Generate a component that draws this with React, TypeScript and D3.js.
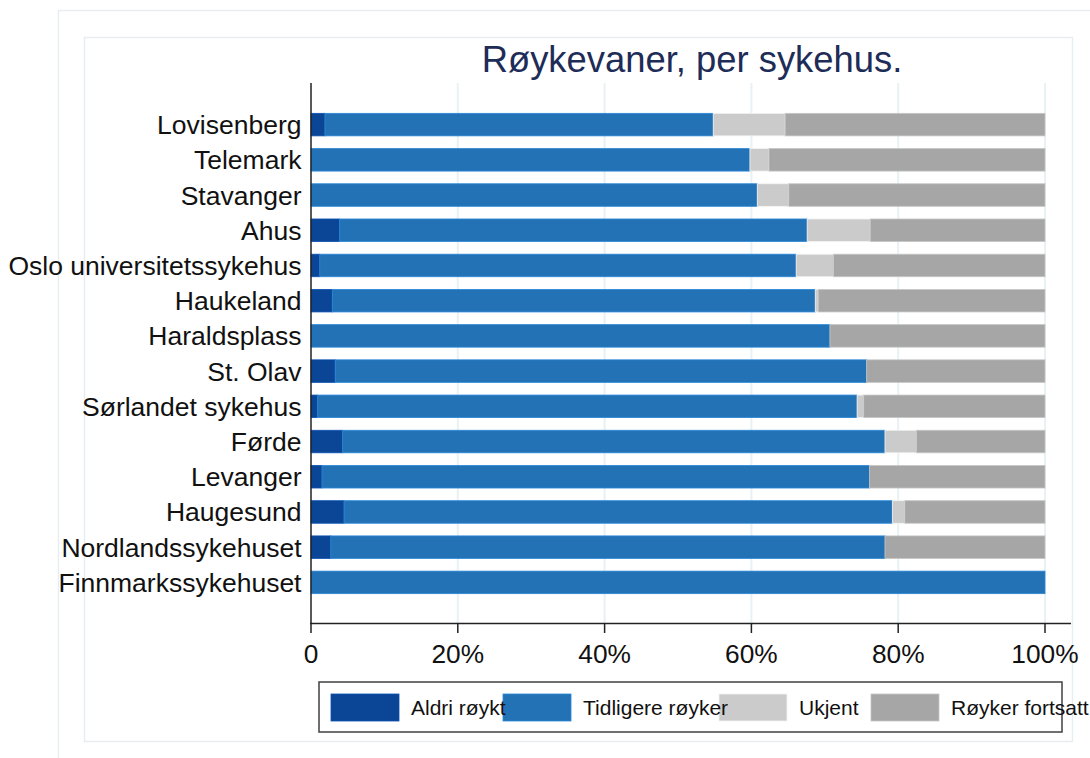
import React, { useEffect, useRef } from 'react'
import * as d3 from 'd3'

const hospitals = [
  'Lovisenberg', 'Telemark', 'Stavanger', 'Ahus', 'Oslo universitetssykehus', 'Haukeland',
  'Haraldsplass', 'St. Olav', 'Sørlandet sykehus', 'Førde', 'Levanger', 'Haugesund',
  'Nordlandssykehuset', 'Finnmarkssykehuset'
];
const seriesNames = ['Aldri røykt', 'Tidligere røyker', 'Ukjent', 'Røyker fortsatt'];
// percent per hospital, same order as above
const aldri = [1.9, 0, 0, 3.9, 1.2, 2.9, 0, 3.3, 0.9, 4.3, 1.5, 4.5, 2.7, 0];
const tidligere = [52.9, 59.8, 60.8, 63.7, 64.9, 65.8, 70.7, 72.4, 73.5, 73.9, 74.6, 74.7, 75.5, 100];
const ukjent = [9.8, 2.6, 4.3, 8.6, 5.1, 0.4, 0, 0, 0.9, 4.3, 0, 1.7, 0, 0];
const fortsatt = [35.4, 37.6, 34.9, 23.8, 28.8, 30.9, 29.3, 24.3, 24.7, 17.5, 23.9, 19.1, 21.8, 0];
const xTicks = [0, 20, 40, 60, 80, 100];
const colors = ['#0a4596', '#2372b5', '#cbcbcb', '#a6a6a6'];

export default function App() {
  const ref = useRef<SVGSVGElement | null>(null);
  useEffect(() => {
    if (!ref.current) return;
    const svg = d3.select(ref.current);
    svg.selectAll('*').remove();
    const font = 'Liberation Sans, Arial, Helvetica, sans-serif';

    // frames
    svg.append('rect').attr('x', 58.5).attr('y', 10.5).attr('width', 1100).attr('height', 800)
      .attr('fill', 'none').attr('stroke', '#e6eef1').attr('stroke-width', 1.5);
    svg.append('rect').attr('x', 84.5).attr('y', 37.5).attr('width', 988).attr('height', 704)
      .attr('fill', 'none').attr('stroke', '#e6eef1').attr('stroke-width', 1.5);

    const x = d3.scaleLinear().domain([0, 100]).range([311, 1045]);
    const y = d3.scaleBand().domain(hospitals).range([107, 600]).paddingInner(0.36).paddingOuter(0.18);
    const axisY = 623.5;

    // gridlines
    svg.append('g').selectAll('line').data(xTicks.slice(1)).enter().append('line')
      .attr('x1', d => x(d)).attr('x2', d => x(d)).attr('y1', 83).attr('y2', axisY)
      .attr('stroke', '#e8f1f3').attr('stroke-width', 2);

    const table = hospitals.map((h, i) => ({ h, vals: [aldri[i], tidligere[i], ukjent[i], fortsatt[i]] }));
    const g = svg.append('g');
    table.forEach(row => {
      let acc = 0;
      row.vals.forEach((v, k) => {
        if (v > 0) {
          g.append('rect').attr('x', x(acc)).attr('y', y(row.h)!).attr('width', x(acc + v) - x(acc))
            .attr('height', y.bandwidth()).attr('fill', colors[k])
            .attr('stroke', d3.color(colors[k])!.brighter(0.5).formatHex()).attr('stroke-width', 0.8);
        }
        acc += v;
      });
    });

    // axes
    svg.append('line').attr('x1', 311).attr('x2', 311).attr('y1', 83).attr('y2', axisY)
      .attr('stroke', '#222').attr('stroke-width', 1.5);
    svg.append('line').attr('x1', 310).attr('x2', 1071).attr('y1', axisY).attr('y2', axisY)
      .attr('stroke', '#222').attr('stroke-width', 1.5);
    const xt = svg.append('g');
    xTicks.forEach(t => {
      xt.append('line').attr('x1', x(t)).attr('x2', x(t)).attr('y1', axisY).attr('y2', 633)
        .attr('stroke', '#222').attr('stroke-width', 1.5);
      xt.append('text').attr('x', x(t)).attr('y', 663).attr('text-anchor', 'middle')
        .attr('font-family', font).attr('font-size', 26.3).attr('fill', '#111')
        .text(t === 0 ? '0' : `${t}%`);
    });
    svg.append('g').selectAll('text').data(hospitals).enter().append('text')
      .attr('x', 301.5).attr('y', d => y(d)! + y.bandwidth() / 2 + 9.5).attr('text-anchor', 'end')
      .attr('font-family', font).attr('font-size', 26.5).attr('fill', '#111').text(d => d);

    // title
    svg.append('text').attr('x', 692).attr('y', 72).attr('text-anchor', 'middle')
      .attr('font-family', font).attr('font-size', 36.4).attr('fill', '#1e2c58')
      .text('Røykevaner, per sykehus.');

    // legend
    svg.append('rect').attr('x', 319).attr('y', 682).attr('width', 743).attr('height', 50)
      .attr('fill', '#fff').attr('stroke', '#404040').attr('stroke-width', 1.5);
    const swX = [331, 503, 719, 871];
    seriesNames.forEach((s, i) => {
      svg.append('rect').attr('x', swX[i]).attr('y', 694).attr('width', 68).attr('height', 27)
        .attr('fill', colors[i]).attr('stroke', d3.color(colors[i])!.brighter(0.5).formatHex()).attr('stroke-width', 0.8);
    });
    seriesNames.forEach((s, i) => {
      svg.append('text').attr('x', swX[i] + 80).attr('y', 715).attr('font-family', font)
        .attr('font-size', 21).attr('fill', '#111').text(s);
    });
  }, []);
  return <svg ref={ref} width={1090} height={758} style={{ position: 'absolute', left: 0, top: 0, background: '#fff' }} />;
}
